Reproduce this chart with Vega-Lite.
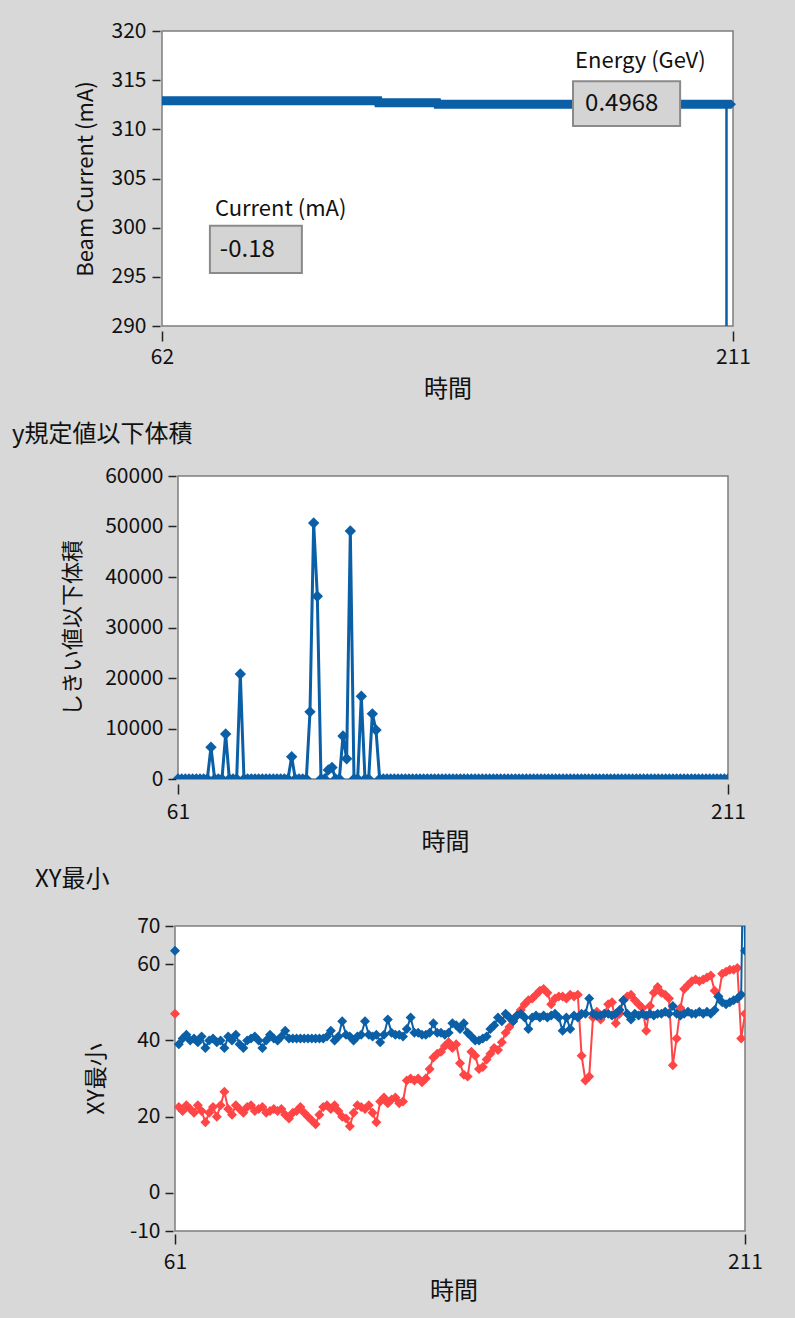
{
  "$schema": "https://vega.github.io/schema/vega-lite/v6.json",
  "background": "#d8d8d8",
  "padding": {"left": 12, "top": 19, "right": 35, "bottom": 24},
  "config": {
    "font": "Noto Sans CJK JP",
    "view": {"fill": "white", "stroke": "#7d7d7d", "strokeWidth": 1.5},
    "axis": {"labelFontSize": 21, "labelColor": "#111111", "titleColor": "#111111", "titleFontWeight": "normal", "tickColor": "#222222", "domain": false, "grid": false, "tickWidth": 1.5, "labelFlush": false, "labelOverlap": false},
    "title": {"anchor": "start", "frame": "group", "fontWeight": "normal", "fontSize": 24, "color": "#111111", "baseline": "bottom"}
  },
  "datasets": {
    "beam": [
      {"t": 62, "v": 312.9}, {"t": 118.4, "v": 312.9}, {"t": 118.5, "v": 312.7}, {"t": 133.8, "v": 312.7}, {"t": 133.9, "v": 312.55}, {"t": 210.6, "v": 312.55}
    ],
    "drop": [
      {"t": 209.3, "v": 312.55}, {"t": 209.35, "v": -0.18}
    ],
    "vol": [
      {"t":61,"v":0},{"t":62,"v":0},{"t":63,"v":0},{"t":64,"v":0},{"t":65,"v":0},{"t":66,"v":0},{"t":67,"v":0},{"t":68,"v":0},{"t":69,"v":0},{"t":70,"v":6300},
      {"t":71,"v":0},{"t":72,"v":0},{"t":73,"v":0},{"t":74,"v":8900},{"t":75,"v":0},{"t":76,"v":0},{"t":77,"v":0},{"t":78,"v":20800},{"t":79,"v":0},{"t":80,"v":0},
      {"t":81,"v":0},{"t":82,"v":0},{"t":83,"v":0},{"t":84,"v":0},{"t":85,"v":0},{"t":86,"v":0},{"t":87,"v":0},{"t":88,"v":0},{"t":89,"v":0},{"t":90,"v":0},
      {"t":91,"v":0},{"t":92,"v":4400},{"t":93,"v":0},{"t":94,"v":0},{"t":95,"v":0},{"t":96,"v":0},{"t":97,"v":13300},{"t":98,"v":50700},{"t":99,"v":36200},{"t":100,"v":0},
      {"t":101,"v":0},{"t":102,"v":1800},{"t":103,"v":2300},{"t":104,"v":0},{"t":105,"v":0},{"t":106,"v":8500},{"t":107,"v":4000},{"t":108,"v":49100},{"t":109,"v":0},{"t":110,"v":0},
      {"t":111,"v":16400},{"t":112,"v":0},{"t":113,"v":0},{"t":114,"v":12900},{"t":115,"v":9700},{"t":116,"v":0},{"t":117,"v":0},{"t":118,"v":0},{"t":119,"v":0},{"t":120,"v":0},
      {"t":121,"v":0},{"t":122,"v":0},{"t":123,"v":0},{"t":124,"v":0},{"t":125,"v":0},{"t":126,"v":0},{"t":127,"v":0},{"t":128,"v":0},{"t":129,"v":0},{"t":130,"v":0},
      {"t":131,"v":0},{"t":132,"v":0},{"t":133,"v":0},{"t":134,"v":0},{"t":135,"v":0},{"t":136,"v":0},{"t":137,"v":0},{"t":138,"v":0},{"t":139,"v":0},{"t":140,"v":0},
      {"t":141,"v":0},{"t":142,"v":0},{"t":143,"v":0},{"t":144,"v":0},{"t":145,"v":0},{"t":146,"v":0},{"t":147,"v":0},{"t":148,"v":0},{"t":149,"v":0},{"t":150,"v":0},
      {"t":151,"v":0},{"t":152,"v":0},{"t":153,"v":0},{"t":154,"v":0},{"t":155,"v":0},{"t":156,"v":0},{"t":157,"v":0},{"t":158,"v":0},{"t":159,"v":0},{"t":160,"v":0},
      {"t":161,"v":0},{"t":162,"v":0},{"t":163,"v":0},{"t":164,"v":0},{"t":165,"v":0},{"t":166,"v":0},{"t":167,"v":0},{"t":168,"v":0},{"t":169,"v":0},{"t":170,"v":0},
      {"t":171,"v":0},{"t":172,"v":0},{"t":173,"v":0},{"t":174,"v":0},{"t":175,"v":0},{"t":176,"v":0},{"t":177,"v":0},{"t":178,"v":0},{"t":179,"v":0},{"t":180,"v":0},
      {"t":181,"v":0},{"t":182,"v":0},{"t":183,"v":0},{"t":184,"v":0},{"t":185,"v":0},{"t":186,"v":0},{"t":187,"v":0},{"t":188,"v":0},{"t":189,"v":0},{"t":190,"v":0},
      {"t":191,"v":0},{"t":192,"v":0},{"t":193,"v":0},{"t":194,"v":0},{"t":195,"v":0},{"t":196,"v":0},{"t":197,"v":0},{"t":198,"v":0},{"t":199,"v":0},{"t":200,"v":0},
      {"t":201,"v":0},{"t":202,"v":0},{"t":203,"v":0},{"t":204,"v":0},{"t":205,"v":0},{"t":206,"v":0},{"t":207,"v":0},{"t":208,"v":0},{"t":209,"v":0},{"t":210,"v":0},
      {"t":211,"v":0}
    ],
    "xyb": [
      {"t":61,"v":63.5},{"t":62,"v":39},{"t":63,"v":40.5},{"t":64,"v":41.5},{"t":65,"v":40},{"t":66,"v":40.5},{"t":67,"v":39.5},{"t":68,"v":41},{"t":69,"v":38},{"t":70,"v":40},
      {"t":71,"v":40.5},{"t":72,"v":39.5},{"t":73,"v":40},{"t":74,"v":38},{"t":75,"v":41},{"t":76,"v":40},{"t":77,"v":41.5},{"t":78,"v":39},{"t":79,"v":38},{"t":80,"v":40},
      {"t":81,"v":40.5},{"t":82,"v":41},{"t":83,"v":40},{"t":84,"v":38},{"t":85,"v":40},{"t":86,"v":41.5},{"t":87,"v":40.5},{"t":88,"v":40},{"t":89,"v":41},{"t":90,"v":42.5},
      {"t":91,"v":40.5},{"t":92,"v":40.5},{"t":93,"v":40.5},{"t":94,"v":40.5},{"t":95,"v":40.5},{"t":96,"v":40.5},{"t":97,"v":40.5},{"t":98,"v":40.5},{"t":99,"v":40.5},{"t":100,"v":40.5},
      {"t":101,"v":41},{"t":102,"v":42.5},{"t":103,"v":40},{"t":104,"v":41},{"t":105,"v":45},{"t":106,"v":41.5},{"t":107,"v":41},{"t":108,"v":40},{"t":109,"v":41},{"t":110,"v":41.5},
      {"t":111,"v":45},{"t":112,"v":41.5},{"t":113,"v":41},{"t":114,"v":41.5},{"t":115,"v":39.5},{"t":116,"v":41.5},{"t":117,"v":45.5},{"t":118,"v":42},{"t":119,"v":41.5},{"t":120,"v":41.5},
      {"t":121,"v":41},{"t":122,"v":43},{"t":123,"v":46},{"t":124,"v":42},{"t":125,"v":42},{"t":126,"v":41.5},{"t":127,"v":41.5},{"t":128,"v":42},{"t":129,"v":44.5},{"t":130,"v":42},
      {"t":131,"v":42},{"t":132,"v":41.5},{"t":133,"v":42},{"t":134,"v":44.5},{"t":135,"v":44},{"t":136,"v":43},{"t":137,"v":44.5},{"t":138,"v":42},{"t":139,"v":41},{"t":140,"v":40},
      {"t":141,"v":40},{"t":142,"v":40.5},{"t":143,"v":41},{"t":144,"v":43},{"t":145,"v":44},{"t":146,"v":46},{"t":147,"v":45},{"t":148,"v":47},{"t":149,"v":46},{"t":150,"v":45},
      {"t":151,"v":46.5},{"t":152,"v":47},{"t":153,"v":46},{"t":154,"v":43},{"t":155,"v":46},{"t":156,"v":46.5},{"t":157,"v":46},{"t":158,"v":46.5},{"t":159,"v":46},{"t":160,"v":46.5},
      {"t":161,"v":47},{"t":162,"v":46},{"t":163,"v":42.5},{"t":164,"v":46},{"t":165,"v":43},{"t":166,"v":46.5},{"t":167,"v":46},{"t":168,"v":47},{"t":169,"v":47},{"t":170,"v":51},
      {"t":171,"v":47},{"t":172,"v":46.5},{"t":173,"v":46.5},{"t":174,"v":47},{"t":175,"v":47},{"t":176,"v":46.5},{"t":177,"v":47},{"t":178,"v":48},{"t":179,"v":50.5},{"t":180,"v":47},
      {"t":181,"v":45.5},{"t":182,"v":47},{"t":183,"v":46.5},{"t":184,"v":47},{"t":185,"v":46.5},{"t":186,"v":47},{"t":187,"v":46.5},{"t":188,"v":47},{"t":189,"v":47},{"t":190,"v":47.5},
      {"t":191,"v":47},{"t":192,"v":49},{"t":193,"v":47},{"t":194,"v":46.5},{"t":195,"v":47},{"t":196,"v":47.5},{"t":197,"v":47},{"t":198,"v":47},{"t":199,"v":47.5},{"t":200,"v":47},
      {"t":201,"v":47.5},{"t":202,"v":47},{"t":203,"v":48},{"t":204,"v":51.5},{"t":205,"v":50},{"t":206,"v":49.5},{"t":207,"v":50},{"t":208,"v":50.5},{"t":209,"v":51},{"t":210,"v":52},
      {"t":210.6,"v":95},{"t":211,"v":63.5}
    ],
    "xyr": [
      {"t":61,"v":47},{"t":62,"v":22.5},{"t":63,"v":21.5},{"t":64,"v":23},{"t":65,"v":22},{"t":66,"v":21},{"t":67,"v":23},{"t":68,"v":21.5},{"t":69,"v":18.5},{"t":70,"v":21},
      {"t":71,"v":22.5},{"t":72,"v":20},{"t":73,"v":23},{"t":74,"v":26.5},{"t":75,"v":22},{"t":76,"v":20.5},{"t":77,"v":23},{"t":78,"v":22},{"t":79,"v":21},{"t":80,"v":22.5},
      {"t":81,"v":23},{"t":82,"v":21.5},{"t":83,"v":22},{"t":84,"v":22.5},{"t":85,"v":21},{"t":86,"v":21.5},{"t":87,"v":22},{"t":88,"v":21.5},{"t":89,"v":22},{"t":90,"v":20.5},
      {"t":91,"v":19.5},{"t":92,"v":21},{"t":93,"v":21.5},{"t":94,"v":22.5},{"t":95,"v":21},{"t":96,"v":20},{"t":97,"v":19},{"t":98,"v":18},{"t":99,"v":20.5},{"t":100,"v":22.5},
      {"t":101,"v":23},{"t":102,"v":22},{"t":103,"v":23},{"t":104,"v":21.5},{"t":105,"v":20},{"t":106,"v":19.5},{"t":107,"v":17.5},{"t":108,"v":21},{"t":109,"v":23},{"t":110,"v":22.5},
      {"t":111,"v":22},{"t":112,"v":23},{"t":113,"v":21},{"t":114,"v":18.5},{"t":115,"v":24},{"t":116,"v":25},{"t":117,"v":23.5},{"t":118,"v":24.5},{"t":119,"v":25},{"t":120,"v":23.5},
      {"t":121,"v":24},{"t":122,"v":29.5},{"t":123,"v":30},{"t":124,"v":29.5},{"t":125,"v":30},{"t":126,"v":29},{"t":127,"v":30},{"t":128,"v":32.5},{"t":129,"v":35.5},{"t":130,"v":36.5},
      {"t":131,"v":37},{"t":132,"v":38.5},{"t":133,"v":39.5},{"t":134,"v":38},{"t":135,"v":39},{"t":136,"v":34},{"t":137,"v":31},{"t":138,"v":30.5},{"t":139,"v":37},{"t":140,"v":36},
      {"t":141,"v":32.5},{"t":142,"v":33},{"t":143,"v":35},{"t":144,"v":36.5},{"t":145,"v":38},{"t":146,"v":37.5},{"t":147,"v":39.5},{"t":148,"v":42},{"t":149,"v":43.5},{"t":150,"v":45},
      {"t":151,"v":46.5},{"t":152,"v":48},{"t":153,"v":49.5},{"t":154,"v":50.5},{"t":155,"v":51},{"t":156,"v":52},{"t":157,"v":53},{"t":158,"v":53.5},{"t":159,"v":52.5},{"t":160,"v":49.5},
      {"t":161,"v":51},{"t":162,"v":51.5},{"t":163,"v":51.5},{"t":164,"v":51},{"t":165,"v":52},{"t":166,"v":51.5},{"t":167,"v":52},{"t":168,"v":36},{"t":169,"v":29.5},{"t":170,"v":30.5},
      {"t":171,"v":46},{"t":172,"v":47.5},{"t":173,"v":45.5},{"t":174,"v":47},{"t":175,"v":49.5},{"t":176,"v":50},{"t":177,"v":44.5},{"t":178,"v":47},{"t":179,"v":50.5},{"t":180,"v":51.5},
      {"t":181,"v":52},{"t":182,"v":50.5},{"t":183,"v":49.5},{"t":184,"v":48.5},{"t":185,"v":42.5},{"t":186,"v":49},{"t":187,"v":52.5},{"t":188,"v":54},{"t":189,"v":52.5},{"t":190,"v":52},
      {"t":191,"v":51},{"t":192,"v":33.5},{"t":193,"v":40.5},{"t":194,"v":48.5},{"t":195,"v":53.5},{"t":196,"v":54.5},{"t":197,"v":55.5},{"t":198,"v":56},{"t":199,"v":55.5},{"t":200,"v":56},
      {"t":201,"v":56.5},{"t":202,"v":57},{"t":203,"v":53},{"t":204,"v":51.5},{"t":205,"v":57.5},{"t":206,"v":58},{"t":207,"v":58.5},{"t":208,"v":58.5},{"t":209,"v":59},{"t":210,"v":40.5},
      {"t":211,"v":47}
    ]
  },
  "columns": 1,
  "spacing": {"row": 14},
  "concat": [
    {
      "columns": 1,
      "spacing": {"row": 21},
      "concat": [
        {
          "width": 571,
          "height": 295,
          "layer": [
            {
              "data": {"name": "beam"},
              "mark": {"type": "line", "color": "#0a5fa6", "strokeWidth": 9, "clip": true},
              "encoding": {
                "x": {"field": "t", "type": "quantitative", "scale": {"domain": [62, 211], "nice": false, "zero": false},
                      "axis": {"values": [62, 211], "format": "d", "title": "時間", "titleFontSize": 24, "offset": 5, "tickSize": 10, "labelPadding": 5, "titlePadding": 10}},
                "y": {"field": "v", "type": "quantitative", "scale": {"domain": [290, 320], "nice": false, "zero": false},
                      "axis": {"values": [290, 295, 300, 305, 310, 315, 320], "format": "d", "title": "Beam Current (mA)", "titleFontSize": 22, "offset": 2, "tickSize": 8, "labelPadding": 6, "titlePadding": 14}}
              }
            },
            {
              "data": {"name": "drop"},
              "mark": {"type": "line", "color": "#0a5fa6", "strokeWidth": 2.5, "clip": true},
              "encoding": {
                "x": {"field": "t", "type": "quantitative"},
                "y": {"field": "v", "type": "quantitative"}
              }
            },
            {
              "data": {"name": "beam"},
              "transform": [{"filter": "datum.t > 210"}],
              "mark": {"type": "point", "shape": "diamond", "filled": true, "size": 80, "color": "#0a5fa6", "opacity": 1},
              "encoding": {
                "x": {"field": "t", "type": "quantitative"},
                "y": {"field": "v", "type": "quantitative"}
              }
            },
            {
              "data": {"values": [{}]},
              "mark": {"type": "rect", "fill": "#d4d4d4", "stroke": "#8a8a8a", "strokeWidth": 2},
              "encoding": {
                "x": {"datum": 169.25, "type": "quantitative"}, "x2": {"datum": 197.2},
                "y": {"datum": 314.9, "type": "quantitative"}, "y2": {"datum": 310.35}
              }
            },
            {
              "data": {"values": [{}]},
              "mark": {"type": "rect", "fill": "#d4d4d4", "stroke": "#8a8a8a", "strokeWidth": 2},
              "encoding": {
                "x": {"datum": 74.5, "type": "quantitative"}, "x2": {"datum": 98.5},
                "y": {"datum": 300.2, "type": "quantitative"}, "y2": {"datum": 295.4}
              }
            },
            {
              "data": {"values": [{}]},
              "mark": {"type": "text", "align": "left", "baseline": "middle", "fontSize": 22, "color": "#111111"},
              "encoding": {
                "x": {"datum": 169.8, "type": "quantitative"}, "y": {"datum": 316.95, "type": "quantitative"},
                "text": {"value": "Energy (GeV)"}
              }
            },
            {
              "data": {"values": [{}]},
              "mark": {"type": "text", "align": "left", "baseline": "middle", "fontSize": 24, "color": "#111111"},
              "encoding": {
                "x": {"datum": 172.4, "type": "quantitative"}, "y": {"datum": 312.6, "type": "quantitative"},
                "text": {"value": "0.4968"}
              }
            },
            {
              "data": {"values": [{}]},
              "mark": {"type": "text", "align": "left", "baseline": "middle", "fontSize": 22, "color": "#111111"},
              "encoding": {
                "x": {"datum": 75.8, "type": "quantitative"}, "y": {"datum": 301.9, "type": "quantitative"},
                "text": {"value": "Current (mA)"}
              }
            },
            {
              "data": {"values": [{}]},
              "mark": {"type": "text", "align": "left", "baseline": "middle", "fontSize": 24, "color": "#111111"},
              "encoding": {
                "x": {"datum": 77.1, "type": "quantitative"}, "y": {"datum": 297.75, "type": "quantitative"},
                "text": {"value": "-0.18"}
              }
            }
          ]
        },
        {
          "width": 566,
          "height": 303,
          "view": {"fill": null, "stroke": null},
          "title": {"text": "y規定値以下体積", "dx": -150, "offset": 18},
          "layer": [
            {
              "data": {"values": [{}]},
              "mark": {"type": "rect", "fill": "white", "stroke": "#7d7d7d", "strokeWidth": 1.5},
              "encoding": {
                "x": {"datum": 61, "type": "quantitative", "scale": {"domain": [56.64, 211], "nice": false, "zero": false},
                      "axis": {"values": [61, 211], "format": "d", "title": "時間", "titleFontSize": 24, "offset": 5, "tickSize": 10, "labelPadding": 7, "titlePadding": 8}},
                "x2": {"datum": 211},
                "y": {"datum": 0, "type": "quantitative", "scale": {"domain": [0, 60000], "nice": false},
                      "axis": {"values": [0, 10000, 20000, 30000, 40000, 50000, 60000], "format": "d", "title": "しきい値以下体積", "titleFontSize": 22, "offset": -14, "tickSize": 8, "labelPadding": 5, "titlePadding": 20}},
                "y2": {"datum": 60000}
              }
            },
            {
              "data": {"name": "vol"},
              "mark": {"type": "line", "color": "#0a5fa6", "strokeWidth": 3, "clip": true},
              "encoding": {
                "x": {"field": "t", "type": "quantitative", "title": "時間"},
                "y": {"field": "v", "type": "quantitative", "title": "しきい値以下体積"}
              }
            },
            {
              "data": {"name": "vol"},
              "mark": {"type": "point", "shape": "diamond", "filled": true, "size": 130, "color": "#0a5fa6", "opacity": 1, "clip": true},
              "encoding": {
                "x": {"field": "t", "type": "quantitative", "title": "時間"},
                "y": {"field": "v", "type": "quantitative", "title": "しきい値以下体積"}
              }
            }
          ]
        }
      ]
    },
    {
      "width": 583,
      "height": 305,
      "view": {"fill": null, "stroke": null},
      "title": {"text": "XY最小", "dx": -127, "offset": 23},
      "layer": [
        {
          "data": {"values": [{}]},
          "mark": {"type": "rect", "fill": "white", "stroke": "#7d7d7d", "strokeWidth": 1.5},
          "encoding": {
            "x": {"datum": 61, "type": "quantitative", "scale": {"domain": [57.58, 211], "nice": false, "zero": false},
                  "axis": {"values": [61, 211], "format": "d", "title": "時間", "titleFontSize": 24, "offset": 3, "tickSize": 10, "labelPadding": 7, "titlePadding": 7}},
            "x2": {"datum": 211},
            "y": {"datum": -10, "type": "quantitative", "scale": {"domain": [-10, 70], "nice": false, "zero": false},
                  "axis": {"values": [-10, 0, 20, 40, 60, 70], "labelExpr": "'' + datum.value", "title": "XY最小", "titleFontSize": 23, "offset": -11, "tickSize": 8, "labelPadding": 5, "titlePadding": 21}},
            "y2": {"datum": 70}
          }
        },
        {"data": {"name": "xyr"}, "transform": [{"filter": "datum.t > 61"}], "mark": {"type": "line", "color": "#ff4545", "strokeWidth": 2, "clip": true},
         "encoding": {"x": {"field": "t", "type": "quantitative", "title": "時間"}, "y": {"field": "v", "type": "quantitative", "title": "XY最小"}}},
        {"data": {"name": "xyr"}, "mark": {"type": "point", "shape": "diamond", "filled": true, "size": 100, "color": "#ff4545", "opacity": 1, "clip": true},
         "encoding": {"x": {"field": "t", "type": "quantitative", "title": "時間"}, "y": {"field": "v", "type": "quantitative", "title": "XY最小"}}},
        {"data": {"name": "xyb"}, "transform": [{"filter": "datum.t > 61"}], "mark": {"type": "line", "color": "#0a5fa6", "strokeWidth": 2, "clip": true},
         "encoding": {"x": {"field": "t", "type": "quantitative", "title": "時間"}, "y": {"field": "v", "type": "quantitative", "title": "XY最小"}}},
        {"data": {"name": "xyb"}, "mark": {"type": "point", "shape": "diamond", "filled": true, "size": 100, "color": "#0a5fa6", "opacity": 1, "clip": true},
         "encoding": {"x": {"field": "t", "type": "quantitative", "title": "時間"}, "y": {"field": "v", "type": "quantitative", "title": "XY最小"}}}
      ]
    }
  ]
}
